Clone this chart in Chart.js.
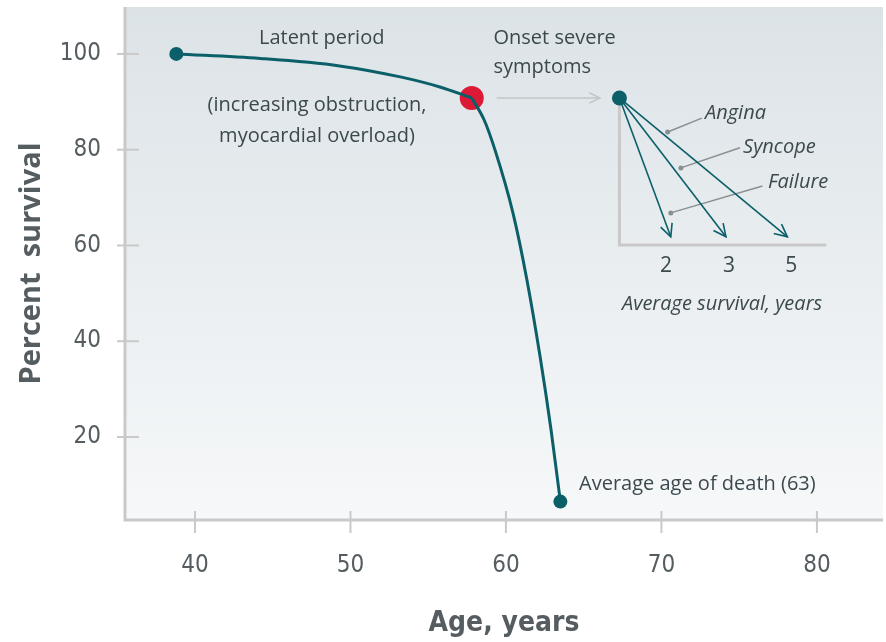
<!DOCTYPE html>
<html>
<head>
<meta charset="utf-8">
<script src="https://cdn.jsdelivr.net/npm/chart.js@4.4.0/dist/chart.umd.min.js"></script>
<style>
  html, body { margin: 0; padding: 0; background: #fff; }
  #wrap { width: 886px; height: 642px; }
</style>
</head>
<body>
<div id="wrap"><canvas id="graphSurvival" width="886" height="642"></canvas></div>
<script>
// Curva de supervivencia (edad, %) - periodo latente y caída
const latentAges = [38.8, 44.2, 49.3, 53.2, 55.75, 57.8];
const latentSurvival = [100, 99.05, 97.5, 95.2, 93.1, 90.8];
const declineAges = [57.8, 58.6, 59.3, 60.45, 61.35, 62.2, 62.9, 63.5];
const declineSurvival = [90.8, 86.2, 79.9, 66.8, 52.8, 36.7, 21.5, 6.5];

const xTicks = [40, 50, 60, 70, 80];
const yTicks = [20, 40, 60, 80, 100];

// puntos clave
const startPoint = {x: 38.8, y: 100};
const onsetPoint = {x: 57.8, y: 90.8};
const deathPoint = {x: 63.5, y: 6.5};

// recuadro: supervivencia media tras síntomas
const insetOrigin = {x: 67.3, y: 90.8};
const insetSymptoms = ['Failure', 'Syncope', 'Angina'];
const insetYears = ['2', '3', '5'];
const insetArrowEndAge = [70.6, 74.15, 78.1];
const insetArrowEndY = 61.8;
const insetTickAge = [70.3, 74.35, 78.35];

const teal = '#0b5f69';
const red = '#dc1a36';
const textColor = '#3b494e';
const tickColor = '#555d60';
const axisGray = '#c9c9c9';
const condensed = '"DejaVu Sans Condensed", "DejaVu Sans", sans-serif';

const arrowDatasets = insetArrowEndAge.map(function (a) {
    return {
        data: [insetOrigin, {x: a, y: insetArrowEndY}],
        showLine: true,
        borderColor: teal,
        borderWidth: 1.6,
        pointRadius: 0,
        isArrow: true
    };
});

const annotations = [
    {text: 'Latent period', x: 48.15, y: 103.3, align: 'center'},
    {text: '(increasing obstruction,', x: 47.85, y: 89.2, align: 'center'},
    {text: 'myocardial overload)', x: 47.85, y: 82.9, align: 'center'},
    {text: 'Onset severe', x: 59.2, y: 103.3, align: 'left'},
    {text: 'symptoms', x: 59.2, y: 97.3, align: 'left'},
    {text: 'Average age of death (63)', x: 64.7, y: 10.2, align: 'left'},
    {text: 'Average survival, years', x: 73.9, y: 47.8, align: 'center', italic: true}
];
// etiquetas de síntomas (orden de insetSymptoms) y sus líneas guía
const symptomLabelPos = [{x: 76.85, y: 73.1}, {x: 75.25, y: 80.6}, {x: 72.8, y: 87.5}];
const leaderFrom = [{x: 70.6, y: 66.8}, {x: 71.25, y: 76.2}, {x: 70.4, y: 83.7}];
const leaderTo = [{x: 76.5, y: 72.4}, {x: 75.05, y: 80.4}, {x: 72.6, y: 86.6}];

function arrowHead(ctx, x0, y0, x1, y1, len, color, width) {
    const ang = Math.atan2(y1 - y0, x1 - x0);
    ctx.save();
    ctx.strokeStyle = color;
    ctx.lineWidth = width;
    ctx.beginPath();
    ctx.moveTo(x1 - len * Math.cos(ang - 0.45), y1 - len * Math.sin(ang - 0.45));
    ctx.lineTo(x1, y1);
    ctx.lineTo(x1 - len * Math.cos(ang + 0.45), y1 - len * Math.sin(ang + 0.45));
    ctx.stroke();
    ctx.restore();
}

const decorPlugin = {
    id: 'decor',
    beforeDatasetsDraw(chart) {
        const ctx = chart.ctx;
        const a = chart.chartArea;
        const xs = chart.scales.x, ys = chart.scales.y;
        // fondo degradado
        const g = ctx.createLinearGradient(0, a.top, 0, a.bottom);
        g.addColorStop(0, '#dce3e7');
        g.addColorStop(1, '#f6f8f9');
        ctx.save();
        ctx.fillStyle = g;
        ctx.fillRect(a.left, a.top, a.right - a.left, a.bottom - a.top);

        // ejes, marcas y etiquetas
        ctx.strokeStyle = axisGray;
        ctx.lineWidth = 3;
        ctx.beginPath();
        ctx.moveTo(a.left, a.top);
        ctx.lineTo(a.left, a.bottom);
        ctx.lineTo(a.right, a.bottom);
        ctx.stroke();
        ctx.lineWidth = 2;
        ctx.fillStyle = tickColor;
        ctx.font = 'condensed 24px ' + condensed;
        ctx.textBaseline = 'middle';
        ctx.textAlign = 'right';
        yTicks.forEach(function (v) {
            const py = ys.getPixelForValue(v);
            ctx.beginPath();
            ctx.moveTo(a.left - 8, py);
            ctx.lineTo(a.left + 14, py);
            ctx.stroke();
            ctx.fillText(String(v), a.left - 24, py);
        });
        ctx.textAlign = 'center';
        xTicks.forEach(function (v) {
            const px = xs.getPixelForValue(v);
            ctx.beginPath();
            ctx.moveTo(px, a.bottom - 9);
            ctx.lineTo(px, a.bottom + 13);
            ctx.stroke();
            ctx.fillText(String(v), px, a.bottom + 46);
        });

        // ejes del recuadro
        const ox = xs.getPixelForValue(insetOrigin.x);
        const oy = ys.getPixelForValue(insetOrigin.y);
        const by = ys.getPixelForValue(60.1);
        const rx = xs.getPixelForValue(80.6);
        ctx.lineWidth = 3;
        ctx.beginPath();
        ctx.moveTo(ox, oy);
        ctx.lineTo(ox, by);
        ctx.lineTo(rx, by);
        ctx.stroke();

        // flecha gris
        const gx0 = xs.getPixelForValue(59.4), gx1 = xs.getPixelForValue(66.05);
        const gy = ys.getPixelForValue(onsetPoint.y);
        ctx.strokeStyle = '#c3c6c8';
        ctx.lineWidth = 1.5;
        ctx.beginPath();
        ctx.moveTo(gx0, gy);
        ctx.lineTo(gx1, gy);
        ctx.stroke();
        arrowHead(ctx, gx0, gy, gx1, gy, 12, '#c3c6c8', 1.5);

        // líneas guía
        ctx.strokeStyle = '#8a8f91';
        ctx.fillStyle = '#8a8f91';
        ctx.lineWidth = 1.5;
        leaderFrom.forEach(function (p, i) {
            const x0 = xs.getPixelForValue(p.x), y0 = ys.getPixelForValue(p.y);
            const x1 = xs.getPixelForValue(leaderTo[i].x), y1 = ys.getPixelForValue(leaderTo[i].y);
            ctx.beginPath();
            ctx.moveTo(x0, y0);
            ctx.lineTo(x1, y1);
            ctx.stroke();
            ctx.beginPath();
            ctx.arc(x0, y0, 2.5, 0, Math.PI * 2);
            ctx.fill();
        });
        ctx.restore();
    },
    afterDatasetsDraw(chart) {
        const ctx = chart.ctx;
        const xs = chart.scales.x, ys = chart.scales.y;
        ctx.save();
        // puntas de flecha
        chart.data.datasets.forEach(function (ds) {
            if (!ds.isArrow) return;
            const p0 = ds.data[0], p1 = ds.data[1];
            arrowHead(ctx, xs.getPixelForValue(p0.x), ys.getPixelForValue(p0.y),
                xs.getPixelForValue(p1.x), ys.getPixelForValue(p1.y), 14, teal, 1.6);
        });

        ctx.fillStyle = textColor;
        ctx.textBaseline = 'middle';
        annotations.forEach(function (t) {
            ctx.font = (t.italic ? 'italic ' : '') + '20px "Open Sans", "Noto Sans", sans-serif';
            ctx.textAlign = t.align;
            ctx.fillText(t.text, xs.getPixelForValue(t.x), ys.getPixelForValue(t.y));
        });
        ctx.font = 'italic 20px "Open Sans", "Noto Sans", sans-serif';
        ctx.textAlign = 'left';
        insetSymptoms.forEach(function (s, i) {
            ctx.fillText(s, xs.getPixelForValue(symptomLabelPos[i].x), ys.getPixelForValue(symptomLabelPos[i].y));
        });
        ctx.font = '21px "Open Sans", "Noto Sans", sans-serif';
        ctx.textAlign = 'center';
        insetYears.forEach(function (s, i) {
            ctx.fillText(s, xs.getPixelForValue(insetTickAge[i]), ys.getPixelForValue(55.7));
        });
        ctx.restore();
    }
};

const graphSurvival = document.querySelector('#graphSurvival');

function toPoints(xs, ys) {
    return xs.map(function (a, i) { return {x: a, y: ys[i]}; });
}

const dataSurvival = {
    datasets: [
        {
            data: toPoints(latentAges, latentSurvival),
            showLine: true,
            borderColor: teal,
            borderWidth: 3,
            pointRadius: 0,
            cubicInterpolationMode: 'monotone'
        },
        {
            data: toPoints(declineAges, declineSurvival),
            showLine: true,
            borderColor: teal,
            borderWidth: 3,
            pointRadius: 0,
            cubicInterpolationMode: 'monotone'
        }
    ].concat(arrowDatasets).concat([
        {
            data: [startPoint, deathPoint, insetOrigin],
            pointRadius: [7, 7, 7.5],
            pointBackgroundColor: teal,
            pointBorderWidth: 0
        },
        {
            data: [onsetPoint],
            pointRadius: 12,
            pointBackgroundColor: red,
            pointBorderWidth: 0
        }
    ])
};

const configSurvival = {
    type: 'scatter',
    data: dataSurvival,
    options: {
        responsive: false,
        animation: false,
        layout: {autoPadding: false, padding: {top: 7, right: 3, left: 0, bottom: 0}},
        plugins: {legend: {display: false}, tooltip: {enabled: false}},
        scales: {
            x: {
                type: 'linear',
                min: 35.5,
                max: 84.25,
                grid: {display: false},
                border: {display: false},
                afterBuildTicks: function (s) { s.ticks = xTicks.map(function (v) { return {value: v}; }); },
                afterFit: function (s) { s.height = 122; },
                ticks: {display: false},
                title: {
                    display: true,
                    text: 'Age, years',
                    color: tickColor,
                    font: {family: condensed, size: 28, weight: 'bold condensed'},
                    padding: {top: 0, bottom: 1}
                }
            },
            y: {
                type: 'linear',
                min: 2.66,
                max: 109.8,
                grid: {display: false},
                border: {display: false},
                afterBuildTicks: function (s) { s.ticks = yTicks.map(function (v) { return {value: v}; }); },
                afterFit: function (s) { s.width = 125; },
                ticks: {display: false},
                title: {
                    display: true,
                    text: 'Percent  survival',
                    color: tickColor,
                    font: {family: '"Open Sans", "Noto Sans", sans-serif', size: 29, weight: 'bold'},
                    padding: {top: 14, bottom: 0}
                }
            }
        }
    },
    plugins: [decorPlugin]
};

new Chart(graphSurvival, configSurvival);
</script>
</body>
</html>
